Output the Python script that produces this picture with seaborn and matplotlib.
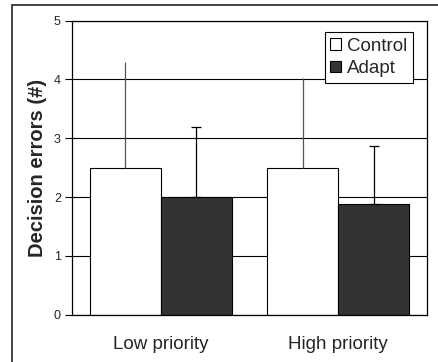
import pandas as pd
import numpy as np
import seaborn as sns
import matplotlib.pyplot as plt
from matplotlib.patches import Rectangle

# chart values
priorities = ['Low priority', 'High priority']
groups = ['Control', 'Adapt']
control_mean = [2.5, 2.5]
adapt_mean = [2.0, 1.88]
control_err = [1.79, 1.52]
adapt_err = [1.2, 0.99]

df = pd.DataFrame({
    'priority': priorities * 2,
    'group': ['Control'] * 2 + ['Adapt'] * 2,
    'errors': control_mean + adapt_mean,
})

sns.set_style('white')
plt.rcParams['font.family'] = ['Liberation Sans', 'DejaVu Sans']

fig = plt.figure(figsize=(4.38, 3.62), dpi=100)
ax = fig.add_axes([72 / 438, 1 - 314.7 / 362, 355 / 438, 294 / 362])

# outer frame around the whole chart
fig.patches.append(Rectangle((12 / 438, -0.05), 1.1, 1 - 5 / 362 + 0.05,
                             transform=fig.transFigure, fill=False,
                             edgecolor='#222222', linewidth=1.2, zorder=0))

sns.barplot(data=df, x='priority', y='errors', hue='group', hue_order=groups,
            order=priorities, palette=['white', '#333333'], edgecolor='black',
            linewidth=0.8, width=0.8, errorbar=None, ax=ax, zorder=2)

# upward error bars
errs = {'Control': (control_mean, control_err, 0, '#555555'),
        'Adapt': (adapt_mean, adapt_err, 3.5, 'black')}
for cont, g in zip(ax.containers, groups):
    means, e, cap, col = errs[g]
    xs = [p.get_x() + p.get_width() / 2 for p in cont.patches]
    ax.errorbar(xs, means, yerr=[np.zeros(len(e)), e], fmt='none',
                ecolor=col, elinewidth=0.9, capsize=cap, capthick=0.9, zorder=3)

ax.set_ylim(0, 5)
ax.set_xlim(-0.5, 1.5)
ax.set_yticks(range(6))
ax.yaxis.grid(True, color='black', linewidth=0.8)
ax.set_axisbelow(True)
ax.set_xticks([-0.5, 0.5, 1.5], minor=True)
ax.tick_params(axis='x', which='major', length=0, labelsize=13.5, pad=15)
ax.tick_params(axis='x', which='minor', length=6, width=0.8, color='black', direction='out')
ax.tick_params(axis='y', length=5, width=0.8, color='black', direction='out',
               labelsize=9, pad=3, left=True)
for s in ax.spines.values():
    s.set_color('black')
    s.set_linewidth(0.9)

ax.set_xlabel('')
ax.set_ylabel('Decision errors (#)', fontsize=14.5, fontweight='bold', labelpad=5)

ax.legend(loc='upper right', bbox_to_anchor=(0.9606, 0.9616), borderaxespad=0,
          fontsize=13.5, handlelength=0.55, handleheight=0.55, handletextpad=0.35,
          borderpad=0.3, labelspacing=0.3, fancybox=False, framealpha=1,
          edgecolor='black')
ax.get_legend().get_frame().set_linewidth(0.8)

fig.savefig('out.png', dpi=100)
